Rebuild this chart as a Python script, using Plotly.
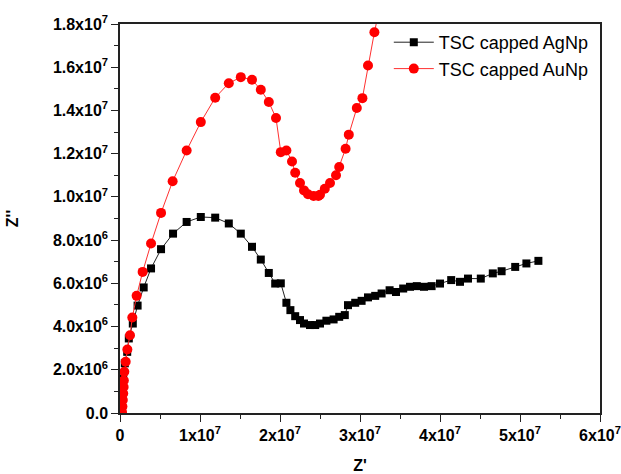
import plotly.graph_objects as go

# AgNp (black squares)
ag_x = [0.2e6, 0.3e6, 0.4e6, 0.6e6, 0.9e6, 1.1e6, 1.6e6, 2.2e6, 2.96e6, 3.88e6, 5.13e6, 6.63e6,
        8.33e6, 10.1e6, 11.9e6, 13.6e6, 15.1e6, 16.5e6, 17.6e6, 18.6e6, 19.4e6, 20.1e6,
        20.8e6, 21.3e6, 21.9e6, 22.5e6, 23.0e6, 23.75e6, 24.4e6, 25.0e6, 25.8e6, 26.7e6,
        27.4e6, 28.1e6, 28.5e6, 29.4e6, 30.2e6, 31.0e6, 31.9e6, 32.7e6, 33.7e6, 34.5e6,
        35.4e6, 36.25e6, 37.1e6, 38.0e6, 38.95e6, 40.0e6, 41.4e6, 42.5e6, 43.5e6, 45.1e6,
        46.6e6, 47.7e6, 49.4e6, 50.8e6, 52.3e6]
ag_y = [0.2e6, 0.8e6, 1.6e6, 2.3e6, 2.83e6, 3.45e6, 4.14e6, 4.97e6, 5.81e6, 6.69e6, 7.58e6, 8.30e6,
        8.84e6, 9.07e6, 9.04e6, 8.77e6, 8.30e6, 7.69e6, 7.10e6, 6.48e6, 5.99e6, 6.0e6,
        5.1e6, 4.76e6, 4.48e6, 4.3e6, 4.14e6, 4.07e6, 4.07e6, 4.14e6, 4.27e6, 4.33e6,
        4.45e6, 4.53e6, 4.99e6, 5.1e6, 5.19e6, 5.35e6, 5.42e6, 5.53e6, 5.68e6, 5.6e6,
        5.76e6, 5.84e6, 5.87e6, 5.84e6, 5.87e6, 5.99e6, 6.15e6, 6.07e6, 6.22e6, 6.22e6,
        6.46e6, 6.56e6, 6.76e6, 6.92e6, 7.04e6]

# AuNp (red circles)
au_x = [0.25e6, 0.3e6, 0.35e6, 0.4e6, 0.45e6, 0.48e6, 0.54e6, 0.71e6, 0.92e6, 1.25e6, 1.54e6,
        2.08e6, 2.83e6, 3.88e6, 5.13e6, 6.58e6, 8.33e6, 10.1e6, 11.9e6, 13.6e6, 15.1e6,
        16.5e6, 17.6e6, 18.6e6, 19.5e6, 20.1e6, 20.8e6, 21.5e6, 21.9e6, 22.5e6, 23.0e6,
        23.5e6, 24.2e6, 24.8e6, 25.0e6, 25.6e6, 26.25e6, 27.0e6, 27.4e6, 28.2e6, 28.6e6,
        29.6e6, 30.3e6, 31.0e6, 31.8e6, 32.6e6]
au_y = [0.05e6, 0.3e6, 0.6e6, 0.9e6, 1.2e6, 1.5e6, 1.91e6, 2.37e6, 2.94e6, 3.6e6, 4.42e6,
        5.42e6, 6.53e6, 7.84e6, 9.26e6, 10.72e6, 12.15e6, 13.46e6, 14.59e6, 15.26e6, 15.54e6,
        15.42e6, 14.96e6, 14.39e6, 13.65e6, 12.07e6, 12.15e6, 11.64e6, 11.12e6, 10.64e6, 10.3e6,
        10.12e6, 10.04e6, 10.04e6, 10.1e6, 10.38e6, 10.64e6, 11.0e6, 11.38e6, 12.23e6, 12.88e6,
        14.11e6, 14.57e6, 16.08e6, 17.62e6, 19.0e6]

x_tickvals = [0, 1e7, 2e7, 3e7, 4e7, 5e7, 6e7]
x_ticktext = ["<b>0</b>", "<b>1x10<sup>7</sup></b>", "<b>2x10<sup>7</sup></b>", "<b>3x10<sup>7</sup></b>",
              "<b>4x10<sup>7</sup></b>", "<b>5x10<sup>7</sup></b>", "<b>6x10<sup>7</sup></b>"]
y_tickvals = [0, 2e6, 4e6, 6e6, 8e6, 1e7, 1.2e7, 1.4e7, 1.6e7, 1.8e7]
y_ticktext = ["<b>0.0</b>", "<b>2.0x10<sup>6</sup></b>", "<b>4.0x10<sup>6</sup></b>", "<b>6.0x10<sup>6</sup></b>",
              "<b>8.0x10<sup>6</sup></b>", "<b>1.0x10<sup>7</sup></b>", "<b>1.2x10<sup>7</sup></b>",
              "<b>1.4x10<sup>7</sup></b>", "<b>1.6x10<sup>7</sup></b>", "<b>1.8x10<sup>7</sup></b>"]

FONT = "Liberation Sans, Arial, sans-serif"

fig = go.Figure()
fig.add_trace(go.Scatter(x=ag_x, y=ag_y, mode="lines+markers", name="TSC capped AgNp",
                         line=dict(color="#222222", width=1),
                         marker=dict(symbol="square", size=8, color="black")))
fig.add_trace(go.Scatter(x=au_x, y=au_y, mode="lines+markers", name="TSC capped AuNp",
                         line=dict(color="#ff3030", width=1),
                         marker=dict(symbol="circle", size=10, color="#ff0000")))

axis_common = dict(showline=True, linecolor="#222222", linewidth=1.5, mirror=True,
                   ticks="outside", ticklen=7, tickwidth=1.3, tickcolor="#222222",
                   showgrid=False, zeroline=False, automargin=False,
                   tickfont=dict(family=FONT, size=16, color="black"))

fig.update_xaxes(range=[0, 6e7], tickvals=x_tickvals, ticktext=x_ticktext,
                 minor=dict(ticks="outside", ticklen=4, tickwidth=1.3, tickcolor="#222222", dtick=5e6),
                 title=dict(text="<b>Z'</b>", font=dict(family=FONT, size=16, color="black"), standoff=22),
                 **axis_common)
fig.update_yaxes(range=[0, 1.8e7], tickvals=y_tickvals, ticktext=y_ticktext,
                 minor=dict(ticks="outside", ticklen=4, tickwidth=1.3, tickcolor="#222222", dtick=1e6),
                 title=dict(text="<b>Z''</b>", font=dict(family=FONT, size=16, color="black"), standoff=30),
                 **axis_common)

fig.update_layout(
    width=621, height=474,
    margin=dict(l=120, r=21, t=24, b=61),
    plot_bgcolor="white", paper_bgcolor="white",
    font=dict(family=FONT, color="black"),
    legend=dict(x=0.56, y=1.0, xanchor="left", yanchor="top",
                bgcolor="rgba(0,0,0,0)", font=dict(family=FONT, size=18, color="black"),
                tracegroupgap=0, itemsizing="trace", itemwidth=40),
)

fig.write_html("out.html")
